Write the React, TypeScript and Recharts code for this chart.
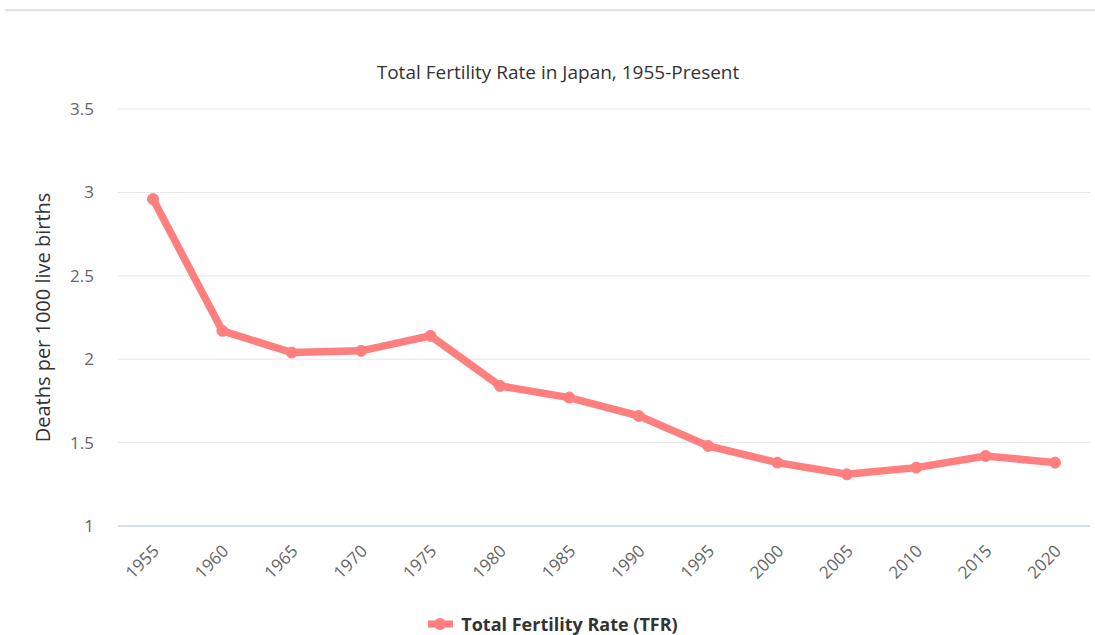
import {
  CartesianGrid,
  Line,
  LineChart,
  XAxis,
  YAxis,
} from "recharts";

const years = [
  "1955", "1960", "1965", "1970", "1975", "1980", "1985",
  "1990", "1995", "2000", "2005", "2010", "2015", "2020",
];
const tfrValues = [
  2.96, 2.17, 2.04, 2.05, 2.14, 1.84, 1.77,
  1.66, 1.48, 1.38, 1.31, 1.35, 1.42, 1.38,
];
const yTicks = [1, 1.5, 2, 2.5, 3, 3.5];

const data = years.map((year, i) => ({ year, tfr: tfrValues[i] }));

const FONT = "'Open Sans', 'Noto Sans', sans-serif";
const LINE_COLOR = "#ff7f7f";

const XTick = ({ x, y, payload }: { x?: number; y?: number; payload?: { value: string } }) => (
  <text
    transform={`translate(${(x ?? 0) + 3},${(y ?? 0) + 14}) rotate(-45)`}
    textAnchor="end"
    dy="0.35em"
    fontSize={17}
    fill="#666666"
    fontFamily={FONT}
  >
    {payload?.value}
  </text>
);

const YLabel = ({ viewBox }: { viewBox?: { x: number; y: number; width: number; height: number } }) => {
  if (!viewBox) return null;
  const cx = viewBox.x + 42;
  const cy = viewBox.y + viewBox.height / 2;
  return (
    <text
      x={cx}
      y={cy}
      transform={`rotate(-90, ${cx}, ${cy})`}
      textAnchor="middle"
      dominantBaseline="central"
      fontSize={20}
      fill="#333333"
      fontFamily={FONT}
    >
      Deaths per 1000 live births
    </text>
  );
};

export default function App() {
  return (
    <div
      style={{
        position: "absolute",
        left: 0,
        top: 0,
        width: 1095,
        height: 635,
        background: "#fff",
        fontFamily: FONT,
        overflow: "hidden",
      }}
    >
      <div
        style={{
          position: "absolute",
          left: 5,
          right: 0,
          top: 9,
          height: 2,
          background: "#e4e4e4",
          boxShadow: "0 1px 2px rgba(0,0,0,0.06)",
        }}
      />
      <div
        style={{
          position: "absolute",
          left: 0,
          width: 1116,
          top: 59,
          textAlign: "center",
          fontSize: 19,
          color: "#333333",
        }}
      >
        Total Fertility Rate in Japan, 1955-Present
      </div>
      <LineChart
        width={1095}
        height={635}
        data={data}
        margin={{ top: 109, right: 5, bottom: 0, left: 0 }}
      >
        <CartesianGrid vertical={false} stroke="#e6e6e6" />
        <XAxis
          dataKey="year"
          height={109}
          stroke="#ccd6eb"
          strokeWidth={1.5}
          tickLine={false}
          interval={0}
          padding={{ left: 35, right: 35 }}
          tick={<XTick />}
        />
        <YAxis
          width={118}
          domain={[1, 3.5]}
          ticks={yTicks}
          axisLine={false}
          tickLine={false}
          tickSize={0}
          tickMargin={24}
          tick={{ fontSize: 17, fill: "#666666", fontFamily: FONT }}
          label={<YLabel />}
        />
        <Line
          type="linear"
          dataKey="tfr"
          stroke={LINE_COLOR}
          strokeWidth={7.5}
          dot={{ r: 5.5, fill: LINE_COLOR, stroke: LINE_COLOR, strokeWidth: 1 }}
          isAnimationActive={false}
        />
      </LineChart>
      <div
        style={{
          position: "absolute",
          left: 0,
          width: 1104,
          top: 612,
          display: "flex",
          justifyContent: "center",
          alignItems: "center",
          fontSize: 18,
          fontWeight: 700,
          color: "#333333",
        }}
      >
        <svg width={32} height={14} style={{ marginRight: 3 }}>
          <line x1={2} y1={7} x2={27} y2={7} stroke={LINE_COLOR} strokeWidth={7} />
          <circle cx={14} cy={7} r={6} fill={LINE_COLOR} />
        </svg>
        Total Fertility Rate (TFR)
      </div>
    </div>
  );
}
